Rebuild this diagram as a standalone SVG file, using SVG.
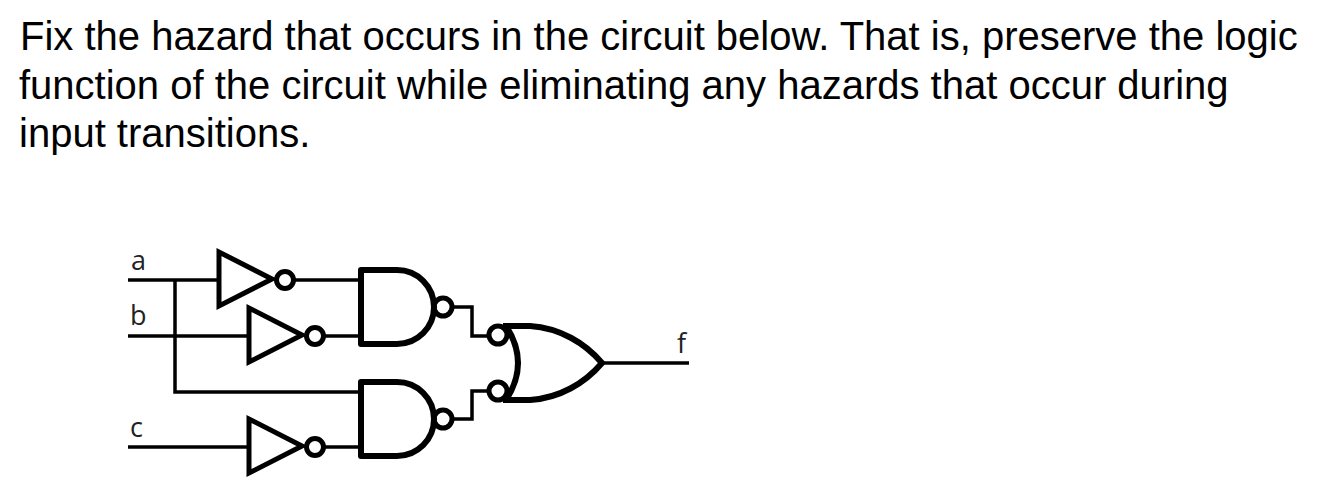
<svg xmlns="http://www.w3.org/2000/svg" width="1319" height="491" viewBox="0 0 1319 491">
<style>
.t{font-family:"Liberation Sans",Arial,sans-serif;font-size:40px;fill:#000}
.l{font-family:"Open Sans","DejaVu Sans",sans-serif;font-size:27px;fill:#222}
.w{fill:none;stroke:#000;stroke-width:3.5}
.g{fill:none;stroke:#000;stroke-width:5;stroke-linejoin:miter}
.gt{fill:none;stroke:#000;stroke-width:6;stroke-linejoin:round}
</style>
<rect width="1319" height="491" fill="#fff"/>
<g id="question">
<text class="t" x="20" y="50">Fix the hazard that occurs in the circuit below. That is, preserve the logic</text>
<text class="t" x="19" y="99">function of the circuit while eliminating any hazards that occur during</text>
<text class="t" x="19" y="147">input transitions.</text>
</g>
<g id="connectors">
<path class="w" d="M128 280H219M128 336H249M175 280V392H361M128 447H249M293 280H361M323 336H361M323 447H361M451 307H472V336H489M451 419H472V391H489"/>
<path class="w" d="M602 363H689"/>
</g>
<g id="label-a"><text class="l" x="131" y="270">a</text></g>
<g id="label-b"><text class="l" x="130" y="325">b</text></g>
<g id="label-c"><text class="l" x="130" y="437">c</text></g>
<g id="label-f"><text class="l" x="677" y="353">f</text></g>
<g id="inv-a"><path class="g" d="M219 252V306L272 279Z"/><circle class="g" cx="285" cy="280" r="8.5"/></g>
<g id="inv-b"><path class="g" d="M249 308V362L302 335Z"/><circle class="g" cx="315" cy="336" r="8.5"/></g>
<g id="inv-c"><path class="g" d="M249 419V473L302 446Z"/><circle class="g" cx="315" cy="447" r="8.5"/></g>
<g id="nand-top"><path class="gt" d="M397 270H361V344H397A37 37 0 0 0 397 270Z"/><circle class="g" cx="443" cy="307" r="9"/></g>
<g id="nand-bottom"><path class="gt" d="M397 382H361V456H397A37 37 0 0 0 397 382Z"/><circle class="g" cx="443" cy="419" r="9"/></g>
<g id="or-gate">
<path class="gt" d="M503 326H530C560 328 585 343 602 363C585 383 560 398 530 400H503"/>
<path class="gt" d="M506 326Q530 363 506 400"/>
<circle class="g" cx="498" cy="335" r="9"/><circle class="g" cx="498" cy="391" r="9"/>
</g>
</svg>
